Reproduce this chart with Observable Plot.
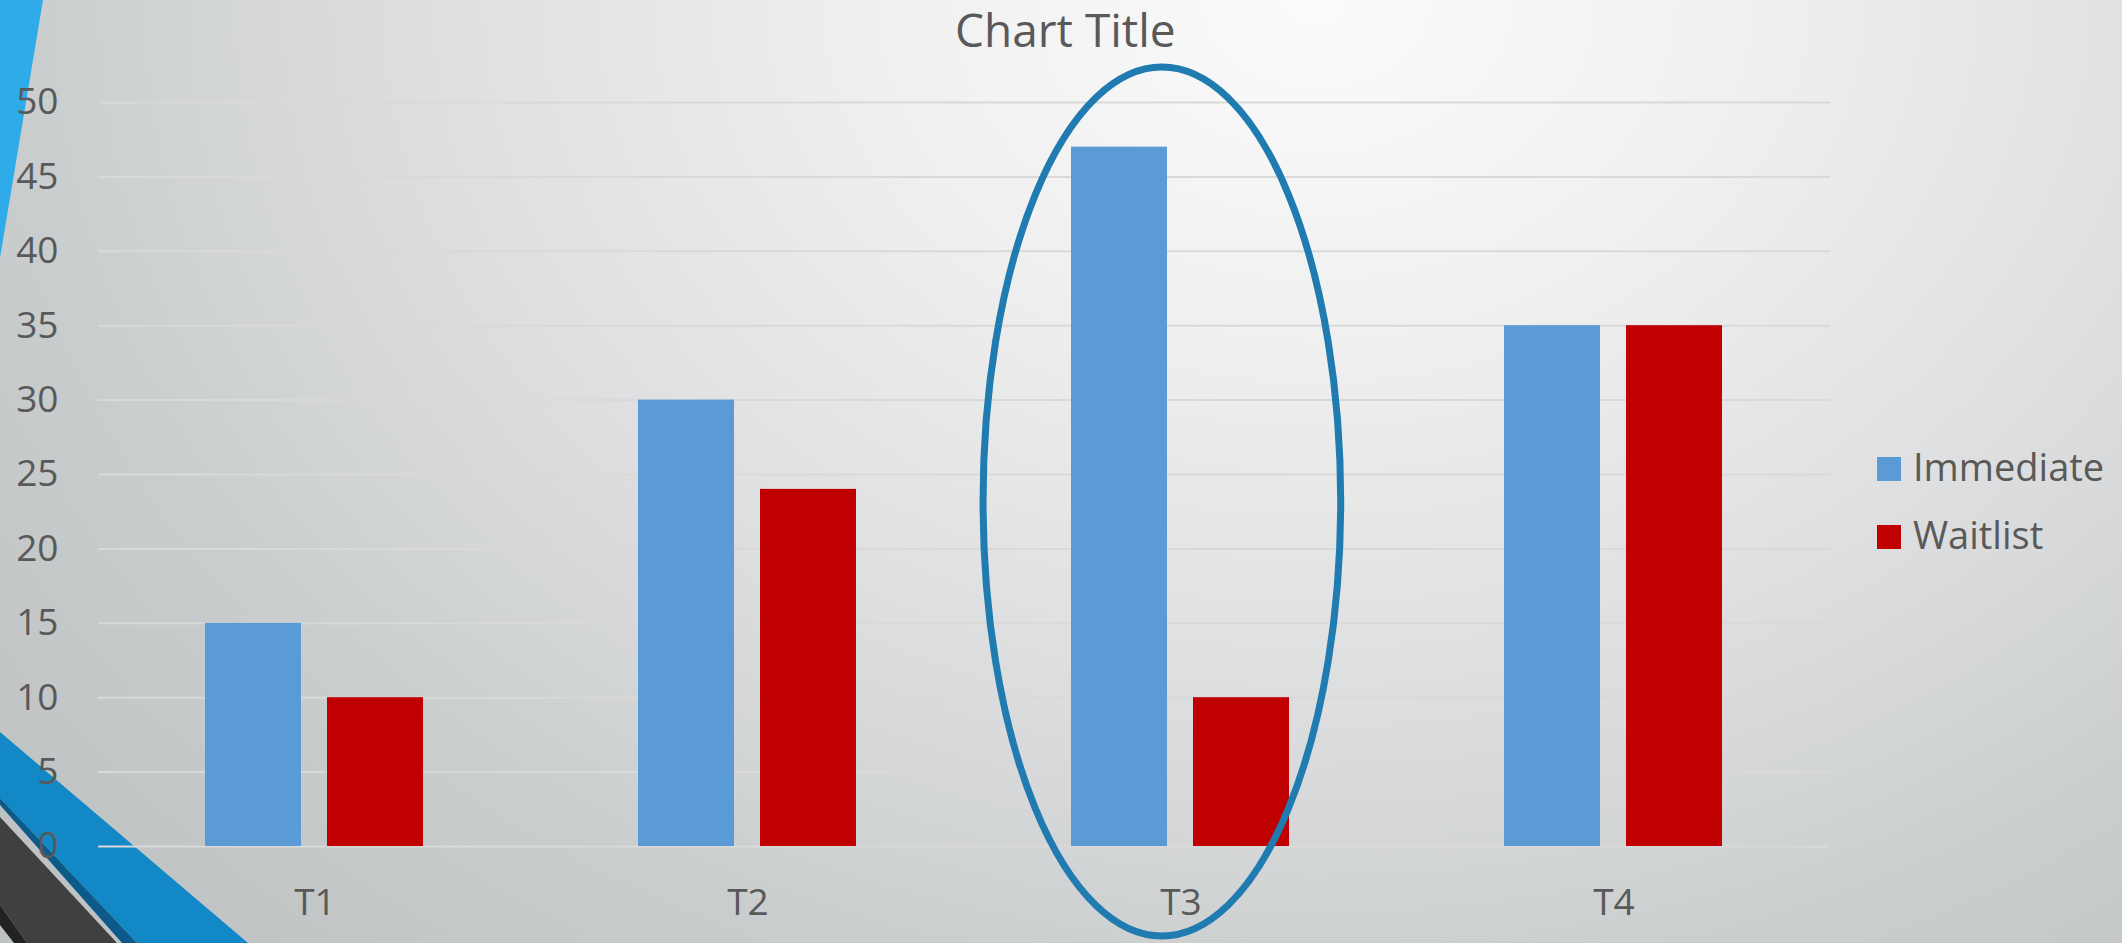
<!DOCTYPE html>
<html>
<head>
<meta charset="utf-8">
<script src="https://cdn.jsdelivr.net/npm/d3@7"></script>
<script src="https://cdn.jsdelivr.net/npm/@observablehq/plot@0.6"></script>
<style>
html, body { margin: 0; padding: 0; }
body {
  width: 2122px; height: 943px; overflow: hidden; position: relative;
  font-family: "Open Sans", sans-serif;
  background: radial-gradient(ellipse 80% 140% at 62% 0%, #fbfbfb 0%, #f0f0f0 25%, #dfe0e1 50%, #cbcecf 75%, #bec2c3 100%);
}
#deco { position: absolute; left: 0; top: 0; }
#chart { position: absolute; left: 0; top: 0; }
#title { position: absolute; left: 0; width: 2124px; text-align: center; top: 6px;
  font-size: 46px; line-height: 46px; color: #595959; }
#title span { position: absolute; left: 955px; }
.leg { position: absolute; left: 1877px; font-size: 38px; line-height: 38px; color: #595959; white-space: nowrap; }
.leg i { display: inline-block; width: 24px; height: 24px; margin-right: 12px; vertical-align: 0px; }
</style>
</head>
<body>
<svg id="deco" width="2122" height="943">
  <polygon points="0,0 43,0 0,258" fill="#30abe9"/>
  <polygon points="0,732 248,943 137,943 0,798" fill="#1288c6"/>
  <polygon points="0,798 137,943 122,943 0,805" fill="#0b5a8a"/>
  <polygon points="0,817 117,943 27,943 0,905" fill="#404040"/>
  <polygon points="0,905 27,943 14,943 0,925" fill="#222222"/>
</svg>
<div id="chart"></div>
<div id="title"><span>Chart Title</span></div>
<div id="legend"></div>
<script>
// ---- data ----
const categories = ["T1", "T2", "T3", "T4"];
const seriesNames = ["Immediate", "Waitlist"];
const immediate = [15, 30, 47, 35];
const waitlist = [10, 24, 10, 35];
const seriesColors = ["#5b9bd5", "#c00000"];
const yTicks = [0, 5, 10, 15, 20, 25, 30, 35, 40, 45, 50];
const titleText = "Chart Title";
// highlight ellipse annotation (category, horizontal centre as fraction of band, radius in bands, centre & radius in y units)
const ellipseCat = "T3";
const ellipseCxFrac = [0.457];
const ellipseRxBands = [0.413];
const ellipseCy = [23.15];
const ellipseRy = [29.2];

const data = [];
categories.forEach((c, i) => {
  data.push({cat: c, series: seriesNames[0], value: immediate[i]});
  data.push({cat: c, series: seriesNames[1], value: waitlist[i]});
});

const textColor = "#595959";

const plot = Plot.plot({
  width: 1880,
  height: 943,
  marginLeft: 97,
  marginRight: 49,
  marginTop: 102,
  marginBottom: 97,
  style: {background: "transparent", overflow: "visible", fontFamily: "Open Sans, sans-serif", color: textColor},
  fx: {domain: categories, padding: 0, label: null},
  x: {domain: seriesNames, paddingInner: 0.211, paddingOuter: 0.866, axis: null},
  y: {domain: [0, 50], label: null},
  color: {domain: seriesNames, range: seriesColors},
  marks: [
    Plot.ruleY(yTicks, {stroke: "#d9d9d9", strokeWidth: 2}),
    Plot.barY(data, {fx: "cat", x: "series", y: "value", fill: "series"}),
    Plot.axisY(yTicks, {tickSize: 0, tickPadding: 40, fontSize: 37, fill: textColor, label: null}),
    Plot.axisFx({anchor: "bottom", tickSize: 0, tickPadding: 42, fontSize: 37, fill: textColor, label: null})
  ]
});
document.getElementById("chart").appendChild(plot);

// ellipse annotation positioned through the plot's scales
const fx = plot.scale("fx"), ys = plot.scale("y");
const cx = fx.apply(ellipseCat) + fx.bandwidth * ellipseCxFrac[0];
const cy = ys.apply(ellipseCy[0]);
const rx = fx.bandwidth * ellipseRxBands[0];
const ry = ys.apply(0) - ys.apply(ellipseRy[0]);
d3.select(plot).append("ellipse")
  .attr("cx", cx).attr("cy", cy).attr("rx", rx).attr("ry", ry)
  .attr("fill", "none").attr("stroke", "#1f7bb0").attr("stroke-width", 7);

// legend
const leg = d3.select("#legend");
seriesNames.forEach((s, i) => {
  leg.append("div").attr("class", "leg").style("top", (447 + i * 68) + "px")
    .html(`<i style="background:${seriesColors[i]}"></i>${s}`);
});
</script>
</body>
</html>
